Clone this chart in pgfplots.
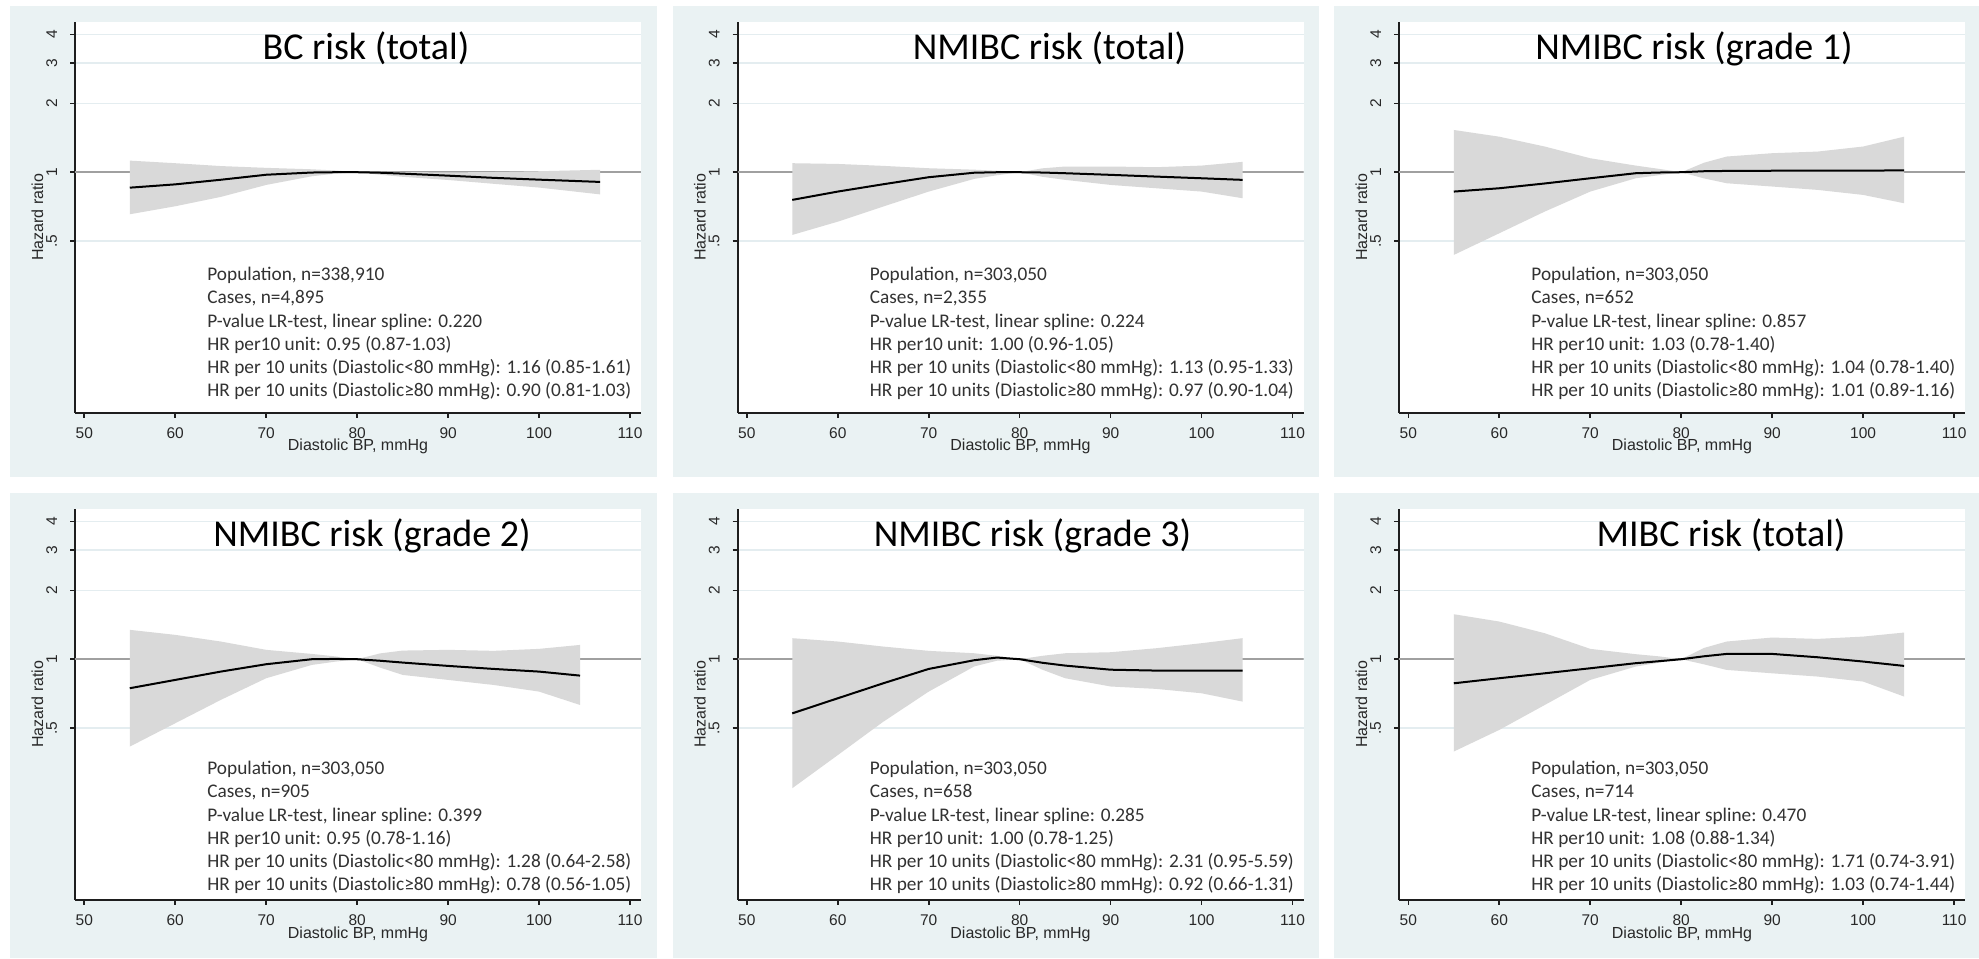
\documentclass[border=0pt]{standalone}
\usepackage{pgfplots}
\pgfplotsset{compat=1.18}
\usepackage{pgfplotstable}
\usepackage{fontspec}
\setmainfont{Liberation Sans}
\newfontfamily\calibri{Carlito}

\definecolor{panelbg}{RGB}{234,242,243}
\definecolor{gridc}{RGB}{228,237,240}
\definecolor{refline}{RGB}{160,160,160}
\definecolor{bandgray}{RGB}{217,217,217}
\definecolor{axisc}{RGB}{30,30,30}
\definecolor{statc}{RGB}{50,50,50}
\definecolor{labc}{RGB}{40,40,40}

% Spline curves: diastolic BP and hazard ratio.
% Bands: the upper 95% limit from left to right, then the lower limit back.
\pgfplotstableread{
bp hr
55 0.856
60 0.885
65 0.927
70 0.975
75 0.997
77.5 1.000
80 1.000
82.5 0.995
85 0.986
90 0.966
95 0.945
100 0.928
106.7 0.907
}\bcCurve
\pgfplotstableread{
bp ci
55 1.124
60 1.095
65 1.064
70 1.045
75 1.030
77.5 1.018
80 1.000
82.5 1.005
85 1.002
90 0.998
95 1.002
100 1.010
106.7 1.025
106.7 0.800
100 0.857
95 0.890
90 0.925
85 0.955
82.5 0.975
80 1.000
77.5 0.985
75 0.960
70 0.880
65 0.780
60 0.710
55 0.655
}\bcBand

\pgfplotstableread{
bp hr
55 0.757
60 0.823
65 0.886
70 0.951
75 0.995
77.5 1.000
80 1.000
82.5 0.997
85 0.990
90 0.974
95 0.957
100 0.941
104.5 0.926
}\nmCurve
\pgfplotstableread{
bp ci
55 1.095
60 1.087
65 1.066
70 1.041
75 1.026
77.5 1.015
80 1.000
82.5 1.040
85 1.059
90 1.059
95 1.052
100 1.069
104.5 1.110
104.5 0.770
100 0.823
95 0.851
90 0.880
85 0.926
82.5 0.955
80 1.000
77.5 0.970
75 0.935
70 0.823
65 0.708
60 0.608
55 0.532
}\nmBand

\pgfplotstableread{
bp hr
55 0.823
60 0.851
65 0.893
70 0.941
75 0.990
77.5 0.997
80 1.000
82.5 1.010
85 1.013
90 1.015
95 1.016
100 1.017
104.5 1.018
}\gOneCurve
\pgfplotstableread{
bp ci
55 1.530
60 1.430
65 1.295
70 1.151
75 1.069
77.5 1.035
80 1.000
82.5 1.100
85 1.171
90 1.211
95 1.231
100 1.295
104.5 1.430
104.5 0.732
100 0.796
95 0.837
90 0.866
85 0.895
82.5 0.940
80 1.000
77.5 0.970
75 0.941
70 0.823
65 0.673
60 0.541
55 0.435
}\gOneBand

\pgfplotstableread{
bp hr
55 0.747
60 0.812
65 0.883
70 0.951
75 1.000
77.5 1.003
80 1.000
82.5 0.985
85 0.967
90 0.935
95 0.907
100 0.883
104.5 0.848
}\gTwoCurve
\pgfplotstableread{
bp ci
55 1.344
60 1.278
65 1.195
70 1.099
75 1.055
77.5 1.030
80 1.000
82.5 1.060
85 1.091
90 1.099
95 1.088
100 1.110
104.5 1.155
104.5 0.631
100 0.722
95 0.772
90 0.812
85 0.854
82.5 0.920
80 1.000
77.5 0.975
75 0.944
70 0.826
65 0.664
60 0.525
55 0.415
}\gTwoBand

\pgfplotstableread{
bp hr
55 0.580
60 0.675
65 0.785
70 0.907
75 0.990
77.5 1.017
80 1.000
82.5 0.965
85 0.938
90 0.900
95 0.892
100 0.892
104.5 0.892
}\gThreeCurve
\pgfplotstableread{
bp ci
55 1.236
60 1.195
65 1.136
70 1.088
75 1.062
77.5 1.035
80 1.000
82.5 1.035
85 1.062
90 1.073
95 1.117
100 1.175
104.5 1.236
104.5 0.653
100 0.710
95 0.742
90 0.760
85 0.826
82.5 0.900
80 1.000
77.5 0.985
75 0.930
70 0.722
65 0.533
60 0.381
55 0.273
}\gThreeBand

\pgfplotstableread{
bp hr
55 0.785
60 0.826
65 0.868
70 0.913
75 0.961
77.5 0.980
80 1.000
82.5 1.030
85 1.055
90 1.055
95 1.020
100 0.977
104.5 0.935
}\miCurve
\pgfplotstableread{
bp ci
55 1.573
60 1.461
65 1.299
70 1.110
75 1.052
77.5 1.030
80 1.000
82.5 1.120
85 1.195
90 1.244
95 1.227
100 1.256
104.5 1.308
104.5 0.687
100 0.799
95 0.840
90 0.868
85 0.898
82.5 0.950
80 1.000
77.5 0.965
75 0.929
70 0.812
65 0.631
60 0.491
55 0.395
}\miBand

% Layout positions are in half-points, measured from the top-left corner.
% #1 column offset, #2 row offset, #3 curve table, #4 band table, #5 title,
% #6 title centre, #7 baseline of the first statistics line, #8 statistics lines
\newcommand{\hrplot}[8]{%
  \fill[panelbg] ({(10+#1)*0.5pt},{(958-6-#2)*0.5pt}) rectangle
    ({min(656.7+#1,1979)*0.5pt},{max(958-476.7-#2,0)*0.5pt});
  \begin{axis}[
    scale only axis, width=283pt, height=195.5pt, anchor=south west,
    at={({(75+#1)*0.5pt},{(958-412.7-#2)*0.5pt})},
    xmin=48.98, xmax=111.2, ymode=log, ymin=0.0889, ymax=4.55,
    axis x line*=bottom, axis y line*=left,
    axis line style={axisc, line width=1pt},
    axis background/.style={fill=white},
    xtick={50,60,70,80,90,100,110}, xticklabels={50,60,70,80,90,100,110},
    ytick={0.5,1,2,3,4}, yticklabels={.5,1,2,3,4},
    yminorticks=false, xminorticks=false,
    tick align=outside, major tick length=2.5pt,
    tick style={axisc, line width=0.8pt},
    ymajorgrids, major grid style={gridc, line width=0.75pt},
    xticklabel style={font=\fontsize{7.75}{9}\selectfont, text=labc, inner sep=0pt, anchor=center, yshift=-7.8pt},
    yticklabel style={font=\fontsize{7.75}{9}\selectfont, text=labc, inner sep=0pt, rotate=90, anchor=center, yshift=9.15pt},
    xlabel={Diastolic BP, mmHg}, ylabel={Hazard ratio},
    xlabel style={font=\fontsize{8}{9.6}\selectfont, text=labc, inner sep=0pt, at={(axis description cs:0.5,0)}, anchor=base, yshift=-19.15pt},
    ylabel style={font=\fontsize{8}{9.6}\selectfont, text=labc, inner sep=0pt, at={(axis description cs:0,0.5)}, anchor=center, yshift=18.75pt},
  ]
    \addplot[refline, line width=0.75pt] coordinates {(48.98,1) (111.2,1)};
    \addplot[fill=bandgray, draw=none] table[x=bp, y=ci] {#4};
    \addplot[black, line width=1pt] table[x=bp, y=hr] {#3};
  \end{axis}
  \node[font=\calibri\fontsize{19}{23}\selectfont, anchor=base, inner sep=0pt] at ({(#6+#1)*0.5pt},{(958-60-#2)*0.5pt}) {#5};
  \foreach \statline [count=\k from 0] in {#8} {
    \node[font=\calibri\fontsize{9.65}{11.6}\selectfont, text=statc, anchor=base west, inner sep=0pt]
      at ({(207+#1)*0.5pt},{(958-#7-#2-23.2*\k)*0.5pt}) {\statline};
  }
}

\begin{document}
\begin{tikzpicture}
  \fill[white] (0pt,0pt) rectangle (989.5pt,479pt);

  \hrplot{0}{0}{\bcCurve}{\bcBand}{BC risk (total)}{366}{280.7}{%
    {Population, n=338,910},{Cases, n=4,895},{P-value LR-test, linear spline: 0.220},
    {HR per10 unit: 0.95 (0.87-1.03)},{HR per 10 units (Diastolic<80 mmHg): 1.16 (0.85-1.61)},
    {HR per 10 units (Diastolic≥80 mmHg): 0.90 (0.81-1.03)}}

  \hrplot{662.5}{0}{\nmCurve}{\nmBand}{NMIBC risk (total)}{387}{280.7}{%
    {Population, n=303,050},{Cases, n=2,355},{P-value LR-test, linear spline: 0.224},
    {HR per10 unit: 1.00 (0.96-1.05)},{HR per 10 units (Diastolic<80 mmHg): 1.13 (0.95-1.33)},
    {HR per 10 units (Diastolic≥80 mmHg): 0.97 (0.90-1.04)}}

  \hrplot{1324}{0}{\gOneCurve}{\gOneBand}{NMIBC risk (grade 1)}{370}{280.7}{%
    {Population, n=303,050},{Cases, n=652},{P-value LR-test, linear spline: 0.857},
    {HR per10 unit: 1.03 (0.78-1.40)},{HR per 10 units (Diastolic<80 mmHg): 1.04 (0.78-1.40)},
    {HR per 10 units (Diastolic≥80 mmHg): 1.01 (0.89-1.16)}}

  \hrplot{0}{487}{\gTwoCurve}{\gTwoBand}{NMIBC risk (grade 2)}{372}{287.7}{%
    {Population, n=303,050},{Cases, n=905},{P-value LR-test, linear spline: 0.399},
    {HR per10 unit: 0.95 (0.78-1.16)},{HR per 10 units (Diastolic<80 mmHg): 1.28 (0.64-2.58)},
    {HR per 10 units (Diastolic≥80 mmHg): 0.78 (0.56-1.05)}}

  \hrplot{662.5}{487}{\gThreeCurve}{\gThreeBand}{NMIBC risk (grade 3)}{370}{287.7}{%
    {Population, n=303,050},{Cases, n=658},{P-value LR-test, linear spline: 0.285},
    {HR per10 unit: 1.00 (0.78-1.25)},{HR per 10 units (Diastolic<80 mmHg): 2.31 (0.95-5.59)},
    {HR per 10 units (Diastolic≥80 mmHg): 0.92 (0.66-1.31)}}

  \hrplot{1324}{487}{\miCurve}{\miBand}{MIBC risk (total)}{397}{287.7}{%
    {Population, n=303,050},{Cases, n=714},{P-value LR-test, linear spline: 0.470},
    {HR per10 unit: 1.08 (0.88-1.34)},{HR per 10 units (Diastolic<80 mmHg): 1.71 (0.74-3.91)},
    {HR per 10 units (Diastolic≥80 mmHg): 1.03 (0.74-1.44)}}
\end{tikzpicture}
\end{document}
